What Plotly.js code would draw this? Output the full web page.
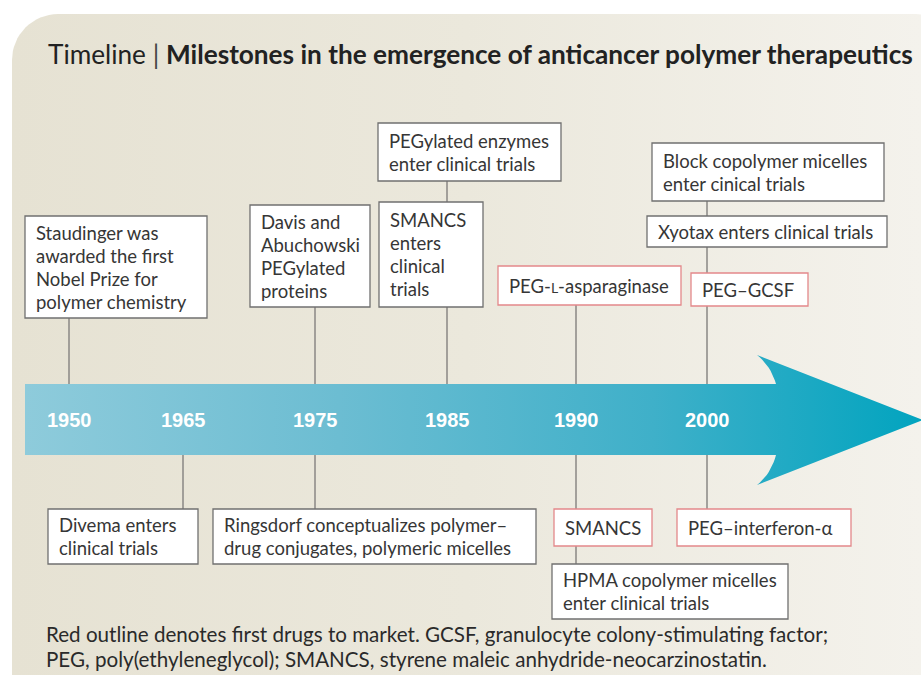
<!DOCTYPE html>
<html>
<head>
<meta charset="utf-8">
<script src="https://cdn.plot.ly/plotly-3.0.1.min.js"></script>
<style>html,body{margin:0;padding:0;background:#fff;}#chart{width:921px;height:675px;}</style>
</head>
<body>
<div id="chart"></div>
<script>
// ---------------- DATA ----------------
const years = ['1950', '1965', '1975', '1985', '1990', '2000'];

const eventYear = ['1950', '1975', '1985', '1985', '1990', '2000', '2000', '2000',
                   '1965', '1975', '1990', '1990', '2000'];
const eventSide = ['above', 'above', 'above', 'above', 'above', 'above', 'above', 'above',
                   'below', 'below', 'below', 'below', 'below'];
const eventText = [
  'Staudinger was<br>awarded the first<br>Nobel Prize for<br>polymer chemistry',
  'Davis and<br>Abuchowski<br>PEGylated<br>proteins',
  'SMANCS<br>enters<br>clinical<br>trials',
  'PEGylated enzymes<br>enter clinical trials',
  'PEG-<span style="font-size:14px">L</span>-asparaginase',
  'PEG–GCSF',
  'Xyotax enters clinical trials',
  'Block copolymer micelles<br>enter cinical trials',
  'Divema enters<br>clinical trials',
  'Ringsdorf conceptualizes polymer–<br>drug conjugates, polymeric micelles',
  'SMANCS',
  'HPMA copolymer micelles<br>enter clinical trials',
  'PEG–interferon-α'
];
const eventFirstToMarket = [false, false, false, false, true, true, false, false,
                            false, false, true, false, true];

const titleLight = 'Timeline';
const titleBold = 'Milestones in the emergence of anticancer polymer therapeutics';
const footnote = [
  'Red outline denotes first drugs to market. GCSF, granulocyte colony-stimulating factor;',
  'PEG, poly(ethyleneglycol); SMANCS, styrene maleic anhydride-neocarzinostatin.'
];

// ---------------- LAYOUT CONFIG (positions / styles) ----------------
const W = 921, H = 675;
const yearX = [69, 183, 315, 447, 576, 707];          // slot centres along the arrow
const arrowTop = 384, arrowBot = 455, arrowMid = 420;
// box rectangles [x0, y0, x1, y1] in pixels, one per event, same order
const boxRect = [
  [25, 216, 207, 318],
  [250, 205, 370, 307],
  [379, 202, 483, 307],
  [378, 123, 561, 181],
  [498, 266, 681, 305],
  [691, 273, 808, 306],
  [647, 216, 887, 247],
  [652, 143, 884, 201],
  [48, 509, 198, 564],
  [213, 509, 536, 564],
  [554, 509, 652, 546],
  [552, 564, 788, 619],
  [677, 509, 851, 546]
];
const lineGap = 23;
const textCol = '#363636';
const boxFont = {family: 'Lato, "Open Sans", sans-serif', size: 18.5, color: textCol};

// ---------------- helpers ----------------
function arcPts(cx, cy, r, a0, a1, n) {
  const xs = [], ys = [];
  for (let i = 0; i <= n; i++) {
    const a = a0 + (a1 - a0) * i / n;
    xs.push(cx + r * Math.cos(a)); ys.push(cy + r * Math.sin(a));
  }
  return [xs, ys];
}
function quad(p0, c, p1, n) {
  const xs = [], ys = [];
  for (let i = 0; i <= n; i++) {
    const t = i / n, u = 1 - t;
    xs.push(u*u*p0[0] + 2*u*t*c[0] + t*t*p1[0]);
    ys.push(u*u*p0[1] + 2*u*t*c[1] + t*t*p1[1]);
  }
  return [xs, ys];
}

// background panel (rounded rectangle, y axis points down)
const bx0 = 12, by0 = 14, bx1 = 962, by1 = 722, R = 46;
let bgX = [], bgY = [];
[[bx0 + R, by0 + R, Math.PI, 1.5 * Math.PI],
 [bx1 - R, by0 + R, 1.5 * Math.PI, 2 * Math.PI],
 [bx1 - R, by1 - R, 0, 0.5 * Math.PI],
 [bx0 + R, by1 - R, 0.5 * Math.PI, Math.PI]].forEach(a => {
  const p = arcPts(a[0], a[1], R, a[2], a[3], 16);
  bgX = bgX.concat(p[0]); bgY = bgY.concat(p[1]);
});
bgX.push(bgX[0]); bgY.push(bgY[0]);

// arrow outline
const headBackX = 776, headX = 757, tipX = 923, headTop = 355, headBot = 485;
let arX = [25, headBackX], arY = [arrowTop, arrowTop];
let c1 = quad([headBackX, arrowTop], [771, 366], [headX, headTop], 10);
arX = arX.concat(c1[0]); arY = arY.concat(c1[1]);
arX.push(tipX); arY.push(arrowMid);
let c2 = quad([headX, headBot], [771, 474], [headBackX, arrowBot], 10);
arX = arX.concat(c2[0]); arY = arY.concat(c2[1]);
arX.push(25, 25); arY.push(arrowBot, arrowTop);

const traces = [
  {x: bgX, y: bgY, type: 'scatter', mode: 'lines', fill: 'toself',
   line: {width: 0, color: 'rgba(0,0,0,0)'},
   fillgradient: {type: 'horizontal', start: 12, stop: 921,
     colorscale: [[0, '#e6e2d3'], [0.5, '#ebe8dc'], [1, '#f4f2ec']]},
   hoverinfo: 'skip', showlegend: false},
  {x: arX, y: arY, type: 'scatter', mode: 'lines', fill: 'toself',
   line: {width: 0, color: 'rgba(0,0,0,0)'},
   fillgradient: {type: 'horizontal', start: 25, stop: 921,
     colorscale: [[0, '#8ecbdb'], [0.35, '#6cbdd2'], [0.7, '#3fb0c9'], [1, '#02a4bf']]},
   hoverinfo: 'skip', showlegend: false}
];

// ---------------- shapes & annotations ----------------
const shapes = [];
const annotations = [];

// connector lines: from the arrow to the farthest box of each stack
years.forEach((yr, yi) => {
  ['above', 'below'].forEach(side => {
    let far = null;
    eventYear.forEach((ey, i) => {
      if (ey !== yr || eventSide[i] !== side) return;
      const r = boxRect[i];
      if (side === 'above') { if (far === null || r[3] < far) far = r[3]; }
      else { if (far === null || r[1] > far) far = r[1]; }
    });
    if (far === null) return;
    shapes.push({type: 'line', xref: 'x', yref: 'y', x0: yearX[yi], x1: yearX[yi],
      y0: side === 'above' ? arrowTop : arrowBot, y1: far,
      line: {color: '#8a8784', width: 1.5}});
  });
});

// boxes + their text (one annotation per text line for exact line spacing)
eventText.forEach((t, i) => {
  const r = boxRect[i];
  shapes.push({type: 'rect', xref: 'x', yref: 'y', x0: r[0], y0: r[1], x1: r[2], y1: r[3],
    fillcolor: '#ffffff',
    line: {color: eventFirstToMarket[i] ? '#e3888a' : '#707070', width: 1.3}});
  const lines = t.split('<br>');
  const cy = (r[1] + r[3]) / 2;
  lines.forEach((ln, k) => {
    annotations.push({x: r[0] + 9, y: cy + (k - (lines.length - 1) / 2) * lineGap,
      xref: 'x', yref: 'y', xanchor: 'left', yanchor: 'middle', align: 'left',
      showarrow: false, text: ln, font: boxFont});
  });
});

// year labels on the arrow
years.forEach((yr, yi) => {
  annotations.push({x: yearX[yi], y: arrowMid, xref: 'x', yref: 'y', showarrow: false,
    xanchor: 'center', yanchor: 'middle', text: '<b>' + yr + '</b>',
    font: {family: '"Liberation Sans", Arial, sans-serif', size: 20, color: '#ffffff'}});
});

// footnote
footnote.forEach((line, k) => {
  annotations.push({x: 44, y: 634 + k * 25, xref: 'x', yref: 'y', showarrow: false,
    xanchor: 'left', yanchor: 'middle', align: 'left', text: line,
    font: {family: 'Lato, "Open Sans", sans-serif', size: 20.6, color: '#2a2a2a'}});
});

const layout = {
  width: W, height: H,
  margin: {l: 0, r: 0, t: 0, b: 0, pad: 0},
  paper_bgcolor: '#ffffff', plot_bgcolor: 'rgba(0,0,0,0)',
  showlegend: false,
  title: {
    text: titleLight + ' <span style="color:#444">|</span> <b>' + titleBold + '</b>',
    x: 48 / W, xanchor: 'left', xref: 'paper',
    y: 1 - 55 / H, yanchor: 'middle', yref: 'paper',
    font: {family: 'Lato, "Open Sans", sans-serif', size: 26.2, color: '#222222'}
  },
  xaxis: {range: [0, W], visible: false, fixedrange: true},
  yaxis: {range: [H, 0], visible: false, fixedrange: true},
  shapes: shapes,
  annotations: annotations
};

Plotly.newPlot('chart', traces, layout, {displayModeBar: false, staticPlot: true});
</script>
</body>
</html>
